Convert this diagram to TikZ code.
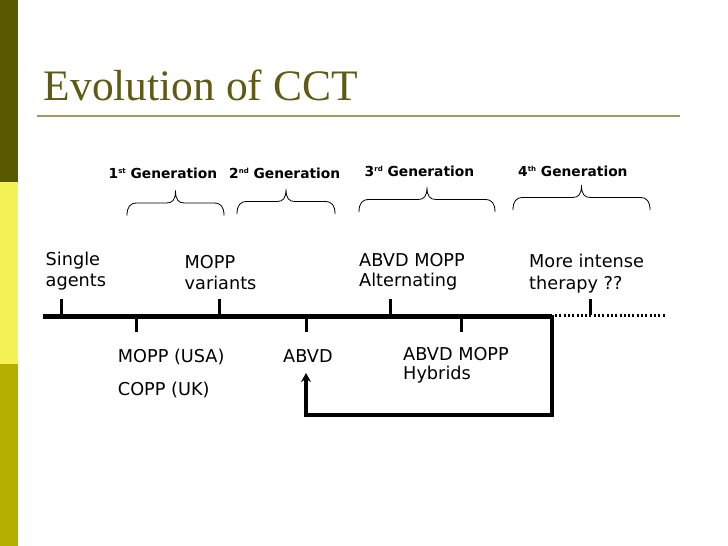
\documentclass[tikz,border=0pt]{standalone}
\usepackage{fontspec}
\setmainfont{DejaVu Sans}
\newfontfamily\titlefont{Liberation Serif}
\usetikzlibrary{arrows.meta}
\definecolor{barA}{RGB}{90,88,0}
\definecolor{barB}{RGB}{245,242,85}
\definecolor{barC}{RGB}{180,175,0}
\definecolor{titlecol}{RGB}{95,90,20}
\definecolor{rulecol}{RGB}{160,155,90}
\newcommand{\supx}[1]{\raisebox{4.5pt}{\fontsize{7}{7}\selectfont #1}}
% brace: left x, right x, bottom y
\newcommand{\mybrace}[3]{%
  \pgfmathsetmacro{\bL}{#1}\pgfmathsetmacro{\bR}{#2}\pgfmathsetmacro{\bB}{#3}%
  \pgfmathsetmacro{\bF}{#3-12.5}\pgfmathsetmacro{\bT}{#3-25}%
  \pgfmathsetmacro{\bM}{(#1+#2)/2}%
  \draw[brcline] (\bL,\bB) .. controls (\bL,\bF+4) and (\bL+3,\bF) .. (\bL+10,\bF)
    -- (\bM-9,\bF) .. controls (\bM-3,\bF) and (\bM,\bF-3) .. (\bM,\bT)
    .. controls (\bM,\bF-3) and (\bM+3,\bF) .. (\bM+9,\bF)
    -- (\bR-10,\bF) .. controls (\bR-3,\bF) and (\bR,\bF+4) .. (\bR,\bB);}
\begin{document}
\begin{tikzpicture}[x=1pt,y=-1pt,
  lbl/.style={anchor=base west,inner sep=0pt,font=\fontsize{17.7}{22}\selectfont},
  gen/.style={anchor=base west,inner sep=0pt,font=\fontsize{13.8}{16}\selectfont\bfseries},
  axisline/.style={line width=4.5pt},
  tickline/.style={line width=3pt},
  loopline/.style={line width=4pt,-{Stealth[length=9pt,width=10pt,inset=3pt]}},
  dotline/.style={line width=2.5pt,dash pattern=on 2pt off 2.3pt},
  brcline/.style={line width=0.8pt},
]
\useasboundingbox (0,0) rectangle (728,546);
\fill[white] (0,0) rectangle (728,546);
% side bar
\fill[barA] (0,0) rectangle (18,182);
\fill[barB] (0,182) rectangle (18,364);
\fill[barC] (0,364) rectangle (18,546);
% title
\node[anchor=base west,inner sep=0pt,text=titlecol,font=\titlefont\fontsize{43.5}{46}\selectfont] (title) at (43.5,100) {Evolution of CCT};
\draw[rulecol,line width=2pt] (37,115.7) -- (680,115.7);
% generation labels
\node[gen] (g1) at (108.5,178) {1\supx{st} Generation};
\node[gen] (g2) at (229,178) {2\supx{nd} Generation};
\node[gen] (g3) at (364.5,176) {3\supx{rd} Generation};
\node[gen] (g4) at (518,176) {4\supx{th} Generation};
% braces
\mybrace{127}{224}{215.5}
\mybrace{237}{335}{214}
\mybrace{359}{495}{212}
\mybrace{513}{650}{210}
% axis
\coordinate (ax0) at (42.7,316.5);
\coordinate (ax1) at (552,316.5);
\coordinate (ax2) at (665,315.7);
\draw[axisline] (ax0) -- (ax1);
\draw[dotline] (555,315.7) -- (ax2);
% ticks above
\coordinate (t1) at (61.7,299.3); \coordinate (t1b) at (61.7,316);
\coordinate (t2) at (219.3,299.3); \coordinate (t2b) at (219.3,316);
\coordinate (t3) at (390.7,299.3); \coordinate (t3b) at (390.7,316);
\coordinate (t4) at (590,299.3); \coordinate (t4b) at (590,315);
\draw[tickline] (t1) -- (t1b);
\draw[tickline] (t2) -- (t2b);
\draw[tickline] (t3) -- (t3b);
\draw[tickline] (t4) -- (t4b);
% ticks below
\coordinate (u1) at (136.7,317); \coordinate (u1b) at (136.7,331.7);
\coordinate (u2) at (306,317); \coordinate (u2b) at (306,331.7);
\coordinate (u3) at (461.7,317); \coordinate (u3b) at (461.7,331.7);
\draw[tickline] (u1) -- (u1b);
\draw[tickline] (u2) -- (u2b);
\draw[tickline] (u3) -- (u3b);
% loop
\coordinate (lp0) at (551.7,314.5);
\coordinate (lp1) at (551.7,415);
\coordinate (lp2) at (306,415);
\coordinate (lp3) at (306,373);
\draw[loopline] (lp0) -- (lp1) -- (lp2) -- (lp3);
% labels above
\node[lbl] (s1) at (45.5,265) {Single};
\node[lbl] (s2) at (45.5,286) {agents};
\node[lbl] (m1) at (184.5,268) {MOPP};
\node[lbl] (m2) at (184.5,289) {variants};
\node[lbl] (a1) at (359,266.7) {ABVD MOPP};
\node[lbl] (a2) at (359,286) {Alternating};
\node[lbl] (r1) at (529,267) {More intense};
\node[lbl] (r2) at (529,289) {therapy ??};
% labels below
\node[lbl] (mu) at (117.7,362) {MOPP (USA)};
\node[lbl] (cu) at (117.7,395) {COPP (UK)};
\node[lbl] (ab) at (283,362) {ABVD};
\node[lbl] (h1) at (403,360) {ABVD MOPP};
\node[lbl] (h2) at (403,379) {Hybrids};
\end{tikzpicture}
\end{document}
